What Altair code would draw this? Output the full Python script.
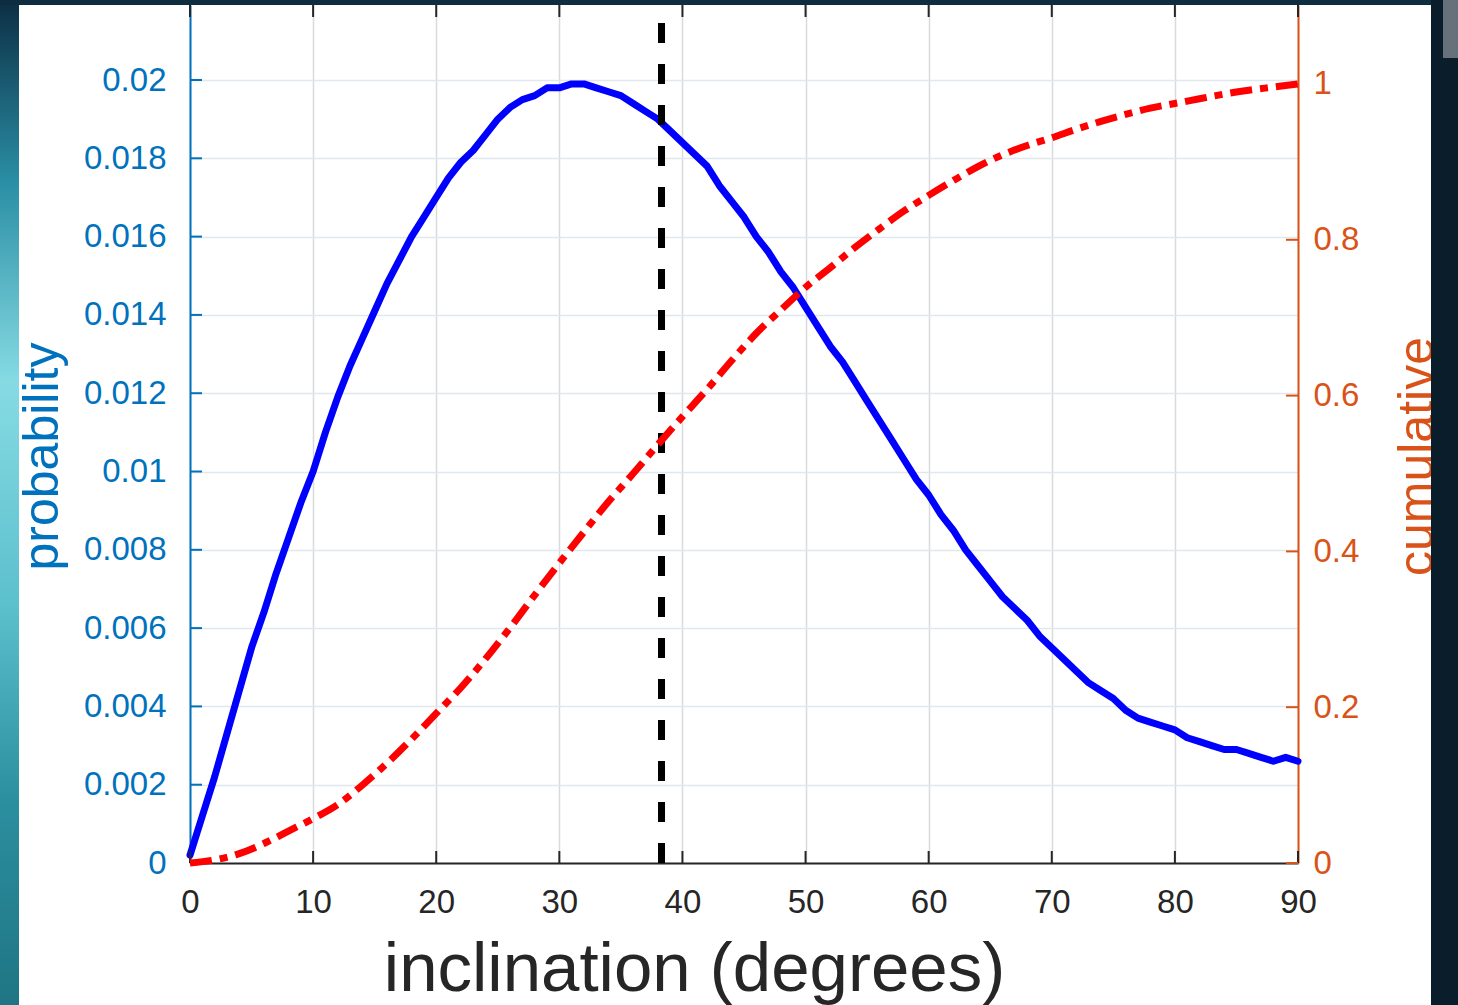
import altair as alt
import pandas as pd

# ---------------- data ----------------
deg_pdf = list(range(0, 91))
prob = [0.0002, 0.0012, 0.0022, 0.0033, 0.0044, 0.0055, 0.0064, 0.0074, 0.0083, 0.0092,
        0.0100, 0.0110, 0.0119, 0.0127, 0.0134, 0.0141, 0.0148, 0.0154, 0.0160, 0.0165,
        0.0170, 0.0175, 0.0179, 0.0182, 0.0186, 0.0190, 0.0193, 0.0195, 0.0196, 0.0198,
        0.0198, 0.0199, 0.0199, 0.0198, 0.0197, 0.0196, 0.0194, 0.0192, 0.0190, 0.0187,
        0.0184, 0.0181, 0.0178, 0.0173, 0.0169, 0.0165, 0.0160, 0.0156, 0.0151, 0.0147,
        0.0142, 0.0137, 0.0132, 0.0128, 0.0123, 0.0118, 0.0113, 0.0108, 0.0103, 0.0098,
        0.0094, 0.0089, 0.0085, 0.0080, 0.0076, 0.0072, 0.0068, 0.0065, 0.0062, 0.0058,
        0.0055, 0.0052, 0.0049, 0.0046, 0.0044, 0.0042, 0.0039, 0.0037, 0.0036, 0.0035,
        0.0034, 0.0032, 0.0031, 0.0030, 0.0029, 0.0029, 0.0028, 0.0027, 0.0026, 0.0027,
        0.0026]

deg_cdf = list(range(0, 91, 2))
cum = [0.000, 0.004, 0.012, 0.025, 0.041, 0.057, 0.075, 0.100, 0.128, 0.159,
       0.192, 0.225, 0.262, 0.302, 0.344, 0.385, 0.425, 0.464, 0.500, 0.537,
       0.573, 0.608, 0.645, 0.680, 0.710, 0.739, 0.764, 0.790, 0.814, 0.837,
       0.857, 0.876, 0.894, 0.909, 0.921, 0.931, 0.942, 0.952, 0.961, 0.969,
       0.975, 0.981, 0.987, 0.992, 0.996, 1.000]

median_incl = [38.3]

x_ticks = [0, 10, 20, 30, 40, 50, 60, 70, 80, 90]
left_ticks = [0, 0.002, 0.004, 0.006, 0.008, 0.01, 0.012, 0.014, 0.016, 0.018, 0.02]
right_ticks = [0, 0.2, 0.4, 0.6, 0.8, 1]

# ---------------- styling ----------------
W, H = 1108, 858
LEFT_MAX = 0.021916
RIGHT_MAX = 1.1014
BLUE_AX = "#0072BD"
ORANGE_AX = "#D95319"
DARK = "#262626"
FONT = "Liberation Sans"

xscale = alt.Scale(domain=[0, 90], nice=False, zero=False)
ylscale = alt.Scale(domain=[0, LEFT_MAX], nice=False, zero=False)
yrscale = alt.Scale(domain=[0, RIGHT_MAX], nice=False, zero=False)

pdf_df = pd.DataFrame({"incl": deg_pdf, "prob": prob})
cdf_df = pd.DataFrame({"incl": deg_cdf, "cum": cum})
xt_df = pd.DataFrame({"incl": x_ticks})
lt_df = pd.DataFrame({"v": left_ticks})
rt_df = pd.DataFrame({"v": right_ticks})
med_df = pd.DataFrame({"incl": median_incl})

x_axis = alt.Axis(
    orient="bottom", values=x_ticks, format="d", grid=True, gridColor="#d9dadd",
    gridWidth=1.5, domainColor=DARK, domainWidth=2, ticks=False, labelFontSize=33,
    labelColor=DARK, labelFont=FONT, labelPadding=23, labelFlush=False,
    labelOverlap=False, title="inclination (degrees)", titleFont=FONT,
    titleFontSize=69, titleFontWeight="normal", titleColor=DARK, titleX=504,
    titleY=127, titleAlign="center", titleBaseline="alphabetic",
)
left_axis = alt.Axis(
    orient="left", values=left_ticks, format="~g", grid=True, gridColor="#dfe7ef",
    gridWidth=1.5, domainColor=BLUE_AX, domainWidth=2, ticks=False,
    labelFontSize=33, labelColor=BLUE_AX, labelFont=FONT, labelPadding=24,
    labelFlush=False, labelOverlap=False,
    title="probability", titleFont=FONT, titleFontSize=50, titleFontWeight="normal",
    titleColor=BLUE_AX, titleAngle=270, titleX=-133, titleY=451,
    titleAlign="center", titleBaseline="alphabetic",
)
right_axis = alt.Axis(
    orient="right", values=right_ticks, format="~g", grid=False,
    domainColor=ORANGE_AX, domainWidth=2, ticks=False,
    labelFontSize=33, labelColor=ORANGE_AX, labelFont=FONT, labelPadding=15,
    labelFlush=False, labelOverlap=False,
    title="cumulative", titleFont=FONT, titleFontSize=50, titleFontWeight="normal",
    titleColor=ORANGE_AX, titleAngle=270, titleX=134, titleY=451,
    titleAlign="center", titleBaseline="alphabetic",
)

# ---------------- probability side ----------------
pdf_line = alt.Chart(pdf_df).mark_line(
    color="#0000FF", strokeWidth=7, strokeJoin="round", strokeCap="round"
).encode(
    x=alt.X("incl:Q", scale=xscale, axis=x_axis),
    y=alt.Y("prob:Q", scale=ylscale, axis=left_axis),
)

med_rule = alt.Chart(med_df).mark_rule(
    color="#000000", strokeWidth=7, strokeDash=[20, 21], strokeCap="butt"
).encode(
    x=alt.X("incl:Q", scale=xscale, axis=x_axis),
    y=alt.value(H), y2=alt.value(0),
)

xt_bottom = alt.Chart(xt_df).mark_rule(color=DARK, strokeWidth=2).encode(
    x=alt.X("incl:Q", scale=xscale, axis=x_axis), y=alt.value(H), y2=alt.value(H - 12)
)
xt_top = alt.Chart(xt_df).mark_rule(color=DARK, strokeWidth=2).encode(
    x=alt.X("incl:Q", scale=xscale, axis=x_axis), y=alt.value(0), y2=alt.value(12)
)
lt = alt.Chart(lt_df).mark_rule(color=BLUE_AX, strokeWidth=2).encode(
    y=alt.Y("v:Q", scale=ylscale, axis=None), x=alt.value(0), x2=alt.value(12)
)

# ---------------- cumulative side ----------------
cdf_line = alt.Chart(cdf_df).mark_line(
    color="#FF0000", strokeWidth=7, strokeDash=[22, 8, 8, 8], strokeCap="butt",
    interpolate="monotone"
).encode(
    x=alt.X("incl:Q", scale=xscale, axis=x_axis),
    y=alt.Y("cum:Q", scale=yrscale, axis=right_axis),
)
rt = alt.Chart(rt_df).mark_rule(color=ORANGE_AX, strokeWidth=2).encode(
    y=alt.Y("v:Q", scale=yrscale, axis=None), x=alt.value(W - 12), x2=alt.value(W)
)

# ---------------- surrounding backdrop (outside the white panel) ----------------
one = pd.DataFrame({"k": [0]})
left_strip = alt.Chart(one).mark_rect(
    color=alt.LinearGradient(
        gradient="linear", x1=0, x2=0, y1=0, y2=1,
        stops=[
            alt.GradientStop(color="#0c2e44", offset=0.0),
            alt.GradientStop(color="#2a8ea4", offset=0.18),
            alt.GradientStop(color="#86dbe3", offset=0.38),
            alt.GradientStop(color="#5cc0cd", offset=0.6),
            alt.GradientStop(color="#2b8e9e", offset=0.8),
            alt.GradientStop(color="#1f7584", offset=1.0),
        ],
    )
).encode(x=alt.value(-190), x2=alt.value(-171), y=alt.value(-5), y2=alt.value(1000))
top_strip = alt.Chart(one).mark_rect(color="#0e2d40").encode(
    x=alt.value(-190), x2=alt.value(1268), y=alt.value(-5), y2=alt.value(0)
)
right_strip = alt.Chart(one).mark_rect(color="#0a1d2b").encode(
    x=alt.value(1241), x2=alt.value(1268), y=alt.value(-5), y2=alt.value(1000)
)
gray_box = alt.Chart(one).mark_rect(color="#66717b").encode(
    x=alt.value(1253), x2=alt.value(1268), y=alt.value(-5), y2=alt.value(53)
)

chart = (
    alt.layer(
        pdf_line, xt_bottom, xt_top, lt, med_rule, rt, cdf_line,
        left_strip, top_strip, right_strip, gray_box,
    )
    .resolve_scale(y="independent")
    .properties(
        width=W, height=H,
        autosize=alt.AutoSizeParams(type="none"),
        padding={"left": 190, "top": 5, "right": 160, "bottom": 142},
        background="#ffffff",
    )
    .configure_view(stroke=None)
)

chart.save("out.html", embed_options={"renderer": "svg", "actions": False})
